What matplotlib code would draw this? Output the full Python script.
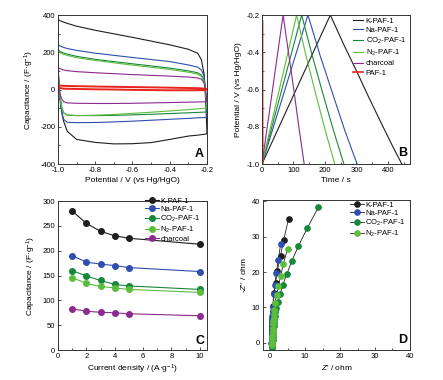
import matplotlib
matplotlib.use("Agg")
import matplotlib.pyplot as plt
from matplotlib.ticker import MultipleLocator

plt.rcParams['font.family'] = ['Liberation Sans', 'DejaVu Sans']
plt.rcParams['mathtext.fontset'] = 'custom'
plt.rcParams['mathtext.rm'] = 'Liberation Sans'
plt.rcParams['mathtext.it'] = 'Liberation Sans:italic'

# ---------------- colours / names ----------------
names = ["K-PAF-1", "Na-PAF-1", "CO$_2$-PAF-1", "N$_2$-PAF-1", "charcoal", "PAF-1"]
colors = ["#1e1e1e", "#2f4fb0", "#17873a", "#5cbd3c", "#8b2a8f", "#e8241c"]

# ---------------- Panel A: CV ----------------
v_up = [-1.0, -0.99, -0.97, -0.95, -0.9, -0.8, -0.6, -0.4, -0.3, -0.25, -0.23, -0.215, -0.205, -0.2]
v_dn = [-0.2, -0.21, -0.25, -0.3, -0.4, -0.5, -0.6, -0.7, -0.8, -0.9, -0.95, -0.97, -0.98, -0.99, -1.0]
k_up = [378, 370, 362, 355, 340, 318, 280, 240, 216, 195, 160, 80, -100, -237]
k_dn = [-237, -240, -245, -250, -268, -285, -291, -292, -284, -268, -225, -170, -120, -50, 120]
na_up = [242, 234, 226, 220, 210, 195, 172, 150, 132, 120, 105, 70, -40, -148]
na_dn = [-148, -150, -152, -155, -160, -165, -170, -174, -177, -178, -176, -160, -120, -40, 120]
co2_up = [215, 205, 196, 190, 178, 162, 138, 115, 100, 90, 78, 50, -40, -120]
co2_dn = [-120, -121, -123, -125, -129, -133, -136, -139, -140, -140, -137, -125, -95, -30, 110]
n2_up = [210, 199, 189, 183, 171, 156, 131, 108, 93, 83, 70, 40, -40, -98]
n2_dn = [-98, -100, -104, -108, -115, -122, -128, -134, -138, -140, -137, -125, -95, -30, 110]
ch_up = [118, 112, 105, 101, 96, 90, 80, 72, 67, 62, 55, 35, -20, -65]
ch_dn = [-65, -66, -67, -68, -70, -72, -74, -75, -75, -74, -72, -65, -50, -20, 60]
paf_up = [22, 21, 20, 19, 18, 16, 13, 10, 8, 7, 6, 5, 3, 0]
paf_dn = [0, -3, -4, -4, -4, -3, -2, 0, 1, 3, 4, 5, 6, 8, 15]

# ---------------- Panel B: GCD ----------------
k_t = [0, 217, 260, 300, 340, 380, 415, 444]
k_v = [-1.0, -0.2, -0.36, -0.50, -0.645, -0.785, -0.905, -1.0]
na_t = [0, 146, 185, 224, 263, 302]
na_v = [-1.0, -0.2, -0.42, -0.62, -0.82, -1.0]
co2_t = [0, 126, 160, 193, 227, 260]
co2_v = [-1.0, -0.2, -0.42, -0.62, -0.82, -1.0]
n2_t = [0, 110, 140, 170, 201, 231]
n2_v = [-1.0, -0.2, -0.42, -0.62, -0.82, -1.0]
ch_t = [0, 67, 84, 101, 117, 134]
ch_v = [-1.0, -0.2, -0.40, -0.60, -0.80, -1.0]
paf_t = [0, 1.2, 2.4]
paf_v = [-1.0, -0.23, -1.0]

# ---------------- Panel C: rate capability ----------------
current = [1, 2, 3, 4, 5, 10]
cap_k = [280, 255, 239, 230, 225, 213]
cap_na = [190, 177, 173, 170, 166, 158]
cap_co2 = [160, 149, 140, 132, 129, 122]
cap_n2 = [146, 134, 128, 125, 122, 116]
cap_ch = [83, 78, 76, 75, 73, 69]

# ---------------- Panel D: Nyquist ----------------
k_zr = [0.45, 0.5, 0.52, 0.55, 0.58, 0.6, 0.63, 0.66, 0.7, 0.75, 0.8, 0.9, 1.2, 1.6, 2.1, 3.0, 3.9, 5.3]
k_zi = [0.0, 0.8, 1.6, 2.4, 3.2, 4.0, 4.9, 5.8, 6.8, 7.9, 9.1, 10.5, 14.2, 17.0, 20.4, 24.6, 29.0, 35.0]
na_zr = [0.4, 0.45, 0.48, 0.5, 0.53, 0.56, 0.58, 0.6, 0.63, 0.66, 0.7, 0.75, 0.8, 1.05, 1.4, 1.8, 2.4, 3.05]
na_zi = [0.0, 0.7, 1.4, 2.1, 2.8, 3.5, 4.2, 5.0, 5.8, 6.7, 7.7, 8.8, 10.2, 13.8, 16.3, 19.7, 23.5, 28.0]
co2_zr = [0.6, 0.65, 0.7, 0.75, 0.8, 0.85, 0.9, 0.95, 1.0, 1.1, 1.2, 1.35, 1.5, 1.8, 2.3, 2.9, 3.6, 4.8, 6.2, 8.1, 10.6, 13.8]
co2_zi = [-1.5, -0.8, 0.0, 0.8, 1.6, 2.4, 3.2, 4.0, 4.8, 5.7, 6.6, 7.6, 8.7, 9.9, 11.6, 13.8, 16.3, 19.4, 23.0, 27.3, 32.3, 38.2]
n2_zr = [0.55, 0.6, 0.65, 0.7, 0.75, 0.8, 0.85, 0.9, 0.95, 1.0, 1.1, 1.2, 1.4, 1.9, 2.4, 3.05, 3.8, 5.0]
n2_zi = [-0.5, 0.3, 1.1, 1.9, 2.7, 3.5, 4.3, 5.2, 6.1, 7.0, 8.1, 9.4, 11.4, 13.6, 16.0, 18.8, 22.3, 26.5]

fs_tick = 5.5
fs_lab = 6.0
fs_leg = 5.5

fig = plt.figure(figsize=(4.43, 3.80), dpi=100)
axA = fig.add_axes([0.1309, 0.5684, 0.3363, 0.3921])
axB = fig.add_axes([0.5914, 0.5684, 0.3341, 0.3921])
axC = fig.add_axes([0.1309, 0.0789, 0.3363, 0.3921])
axD = fig.add_axes([0.5937, 0.0789, 0.3318, 0.3947])


def style(ax):
    for s in ax.spines.values():
        s.set_linewidth(0.7)
        s.set_color('#333333')
    ax.tick_params(which='both', direction='in', labelsize=fs_tick, width=0.6,
                   color='#333333', pad=2, top=False, right=False)
    ax.tick_params(which='major', length=2.5)
    ax.tick_params(which='minor', length=1.5)


# Panel A
cv_sets = [(k_up, k_dn), (na_up, na_dn), (co2_up, co2_dn), (n2_up, n2_dn), (ch_up, ch_dn), (paf_up, paf_dn)]
for i, (up, dn) in enumerate(cv_sets):
    xs = v_up + v_dn + [v_up[0]]
    ys = up + dn + [up[0]]
    axA.plot(xs, ys, color=colors[i], lw=1.4 if i == 5 else 0.8)
axA.set_xlim(-1.0, -0.2)
axA.set_ylim(-400, 400)
axA.xaxis.set_minor_locator(MultipleLocator(0.1))
axA.yaxis.set_minor_locator(MultipleLocator(100))
axA.set_xticks([-1.0, -0.8, -0.6, -0.4, -0.2])
axA.set_xticklabels(["-1.0", "-0.8", "-0.6", "-0.4", "-0.2"])
axA.set_yticks([-400, -200, 0, 200, 400])
axA.set_yticklabels(["-400", "-200", "0", "200", "400"])
axA.set_xlabel("Potential / V (vs Hg/HgO)", fontsize=fs_lab, labelpad=2)
axA.set_ylabel("Capacitance / (F·g$^{-1}$)", fontsize=fs_lab, labelpad=3)
style(axA)
axA.text(0.945, 0.065, "A", transform=axA.transAxes, fontsize=9, fontweight='bold',
         ha='center', va='center')

# Panel B
gcd = [(k_t, k_v), (na_t, na_v), (co2_t, co2_v), (n2_t, n2_v), (ch_t, ch_v), (paf_t, paf_v)]
for i, (t, v) in enumerate(gcd):
    axB.plot(t, v, color=colors[i], lw=0.8 if i < 5 else 1.2, label=names[i])
axB.set_xlim(0, 470)
axB.set_ylim(-1.0, -0.2)
axB.xaxis.set_major_locator(MultipleLocator(100))
axB.xaxis.set_minor_locator(MultipleLocator(50))
axB.yaxis.set_minor_locator(MultipleLocator(0.1))
axB.set_yticks([-1.0, -0.8, -0.6, -0.4, -0.2])
axB.set_yticklabels(["-1.0", "-0.8", "-0.6", "-0.4", "-0.2"])
axB.set_xlabel("Time / s", fontsize=fs_lab, labelpad=2)
axB.set_ylabel("Potential / V (vs Hg/HgO)", fontsize=fs_lab, labelpad=3)
style(axB)
legB = axB.legend(loc='upper left', bbox_to_anchor=(0.6, 1.0), fontsize=fs_leg, frameon=False,
                  handlelength=1.35, handletextpad=0.3, labelspacing=0.25,
                  borderaxespad=0.1, borderpad=0.2)
axB.text(0.95, 0.072, "B", transform=axB.transAxes, fontsize=9, fontweight='bold',
         ha='center', va='center')

# Panel C
caps = [cap_k, cap_na, cap_co2, cap_n2, cap_ch]
for i, c in enumerate(caps):
    axC.plot(current, c, color=colors[i], lw=0.8, marker='o', ms=4, label=names[i])
axC.set_xlim(0, 10.5)
axC.set_ylim(0, 300)
axC.xaxis.set_major_locator(MultipleLocator(2))
axC.xaxis.set_minor_locator(MultipleLocator(1))
axC.yaxis.set_major_locator(MultipleLocator(50))
axC.set_xlabel("Current density / (A·g$^{-1}$)", fontsize=fs_lab, labelpad=2)
axC.set_ylabel("Capacitance / (F·g$^{-1}$)", fontsize=fs_lab, labelpad=3)
style(axC)
axC.legend(loc='upper left', bbox_to_anchor=(0.58, 1.03), fontsize=fs_leg, frameon=False,
           handlelength=1.8, handletextpad=0.2, labelspacing=0.1, borderaxespad=0.0,
           borderpad=0.1, numpoints=1)
axC.text(0.95, 0.06, "C", transform=axC.transAxes, fontsize=9, fontweight='bold',
         ha='center', va='center')

# Panel D
nyq = [(k_zr, k_zi), (na_zr, na_zi), (co2_zr, co2_zi), (n2_zr, n2_zi)]
for i, (zr, zi) in enumerate(nyq):
    axD.plot(zr, zi, color='#222222', lw=0.6, marker='o', ms=3.8, mfc=colors[i],
             mec=colors[i], label=names[i])
axD.set_xlim(-2, 40)
axD.set_ylim(-2, 40.3)
axD.xaxis.set_major_locator(MultipleLocator(10))
axD.xaxis.set_minor_locator(MultipleLocator(5))
axD.yaxis.set_major_locator(MultipleLocator(10))
axD.set_xlabel("$Z$' / ohm", fontsize=fs_lab, labelpad=2)
axD.set_ylabel("-$Z$'' / ohm", fontsize=fs_lab, labelpad=3)
style(axD)
axD.legend(loc='upper left', bbox_to_anchor=(0.58, 1.0), fontsize=fs_leg, frameon=False,
           handlelength=1.8, handletextpad=0.2, labelspacing=0.1, borderaxespad=0.1,
           borderpad=0.1, numpoints=1)
axD.text(0.95, 0.067, "D", transform=axD.transAxes, fontsize=9, fontweight='bold',
         ha='center', va='center')

fig.savefig("out.png", dpi=100)
